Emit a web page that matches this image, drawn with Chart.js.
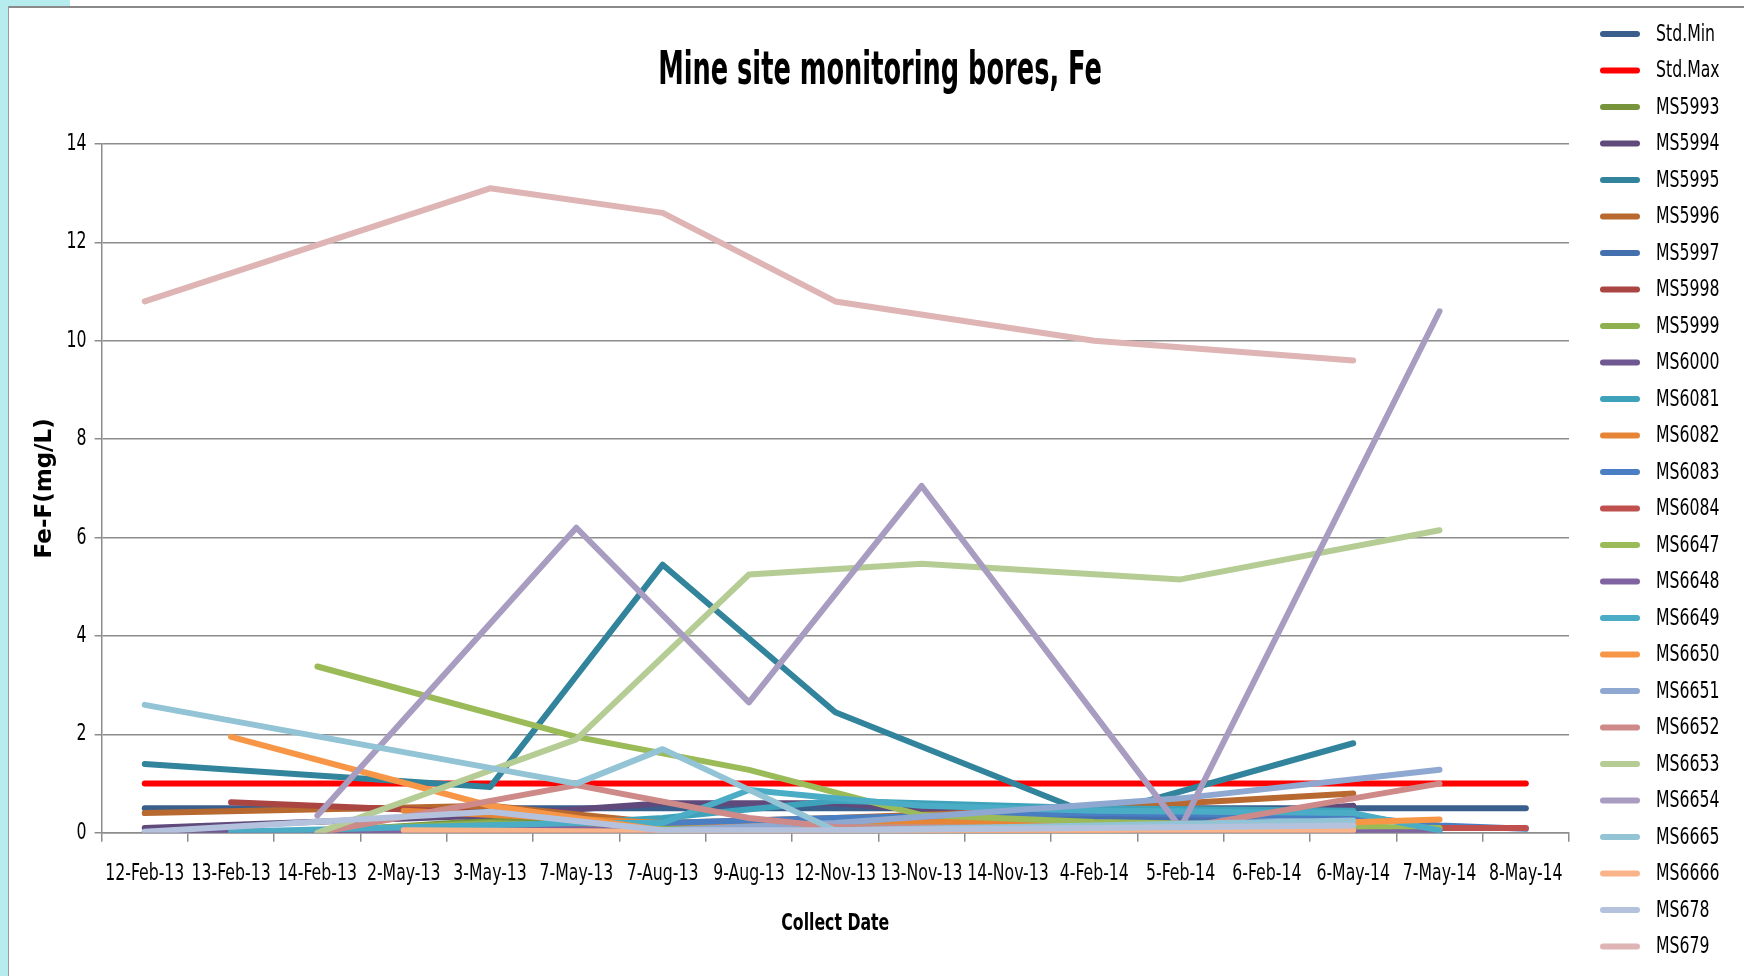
<!DOCTYPE html>
<html>
<head>
<meta charset="utf-8">
<script src="https://cdn.jsdelivr.net/npm/chart.js@4.4.1/dist/chart.umd.min.js"></script>
<style>
  html, body { margin:0; padding:0; background:#ffffff; overflow:hidden; }
  #wrap { position:relative; width:1744px; height:976px; }
  .deco { position:absolute; }
  #strip { left:0; top:0; width:8px; height:976px; background:#b6ecee; }
  #corner { left:0; top:0; width:70px; height:6px; background:#b6ecee; }
  #topline { left:8px; top:6px; width:1736px; height:2px; background:#8a8a8a; }
  #leftline { left:8px; top:6px; width:1px; height:970px; background:#9a9a9a; }
  canvas { position:absolute; left:0; top:0; }
</style>
</head>
<body>
<div id="wrap">
  <div class="deco" id="strip"></div>
  <div class="deco" id="corner"></div>
  <div class="deco" id="topline"></div>
  <div class="deco" id="leftline"></div>
  <canvas id="c" width="1744" height="976"></canvas>
</div>
<script>
const N = null;
const categories = ['12-Feb-13','13-Feb-13','14-Feb-13','2-May-13','3-May-13','7-May-13','7-Aug-13','9-Aug-13','12-Nov-13','13-Nov-13','14-Nov-13','4-Feb-14','5-Feb-14','6-Feb-14','6-May-14','7-May-14','8-May-14'];
const yTicks = [0, 2, 4, 6, 8, 10, 12, 14];

const seriesNames = ['Std.Min','Std.Max','MS5993','MS5994','MS5995','MS5996','MS5997','MS5998','MS5999','MS6000','MS6081','MS6082','MS6083','MS6084','MS6647','MS6648','MS6649','MS6650','MS6651','MS6652','MS6653','MS6654','MS6665','MS6666','MS678','MS679'];
const seriesColors = ['#3A5F8D','#FF0000','#77933C','#5F4A7B','#31849B','#B8692F','#4471AE','#AA4542','#8FB04E','#6F5791','#3FA2BB','#E68535','#4A7EC2','#C0504D','#9BBB59','#8064A2','#4BACC6','#F79646','#8FA8D1','#CE8A89','#B5CD95','#A89CC0','#92C4D6','#F9B48A','#B4C2DD','#DEB4B4'];

const stdMin = [0.5,0.5,0.5,0.5,0.5,0.5,0.5,0.5,0.5,0.5,0.5,0.5,0.5,0.5,0.5,0.5,0.5];
const stdMax = [1,1,1,1,1,1,1,1,1,1,1,1,1,1,1,1,1];
const ms5993 = [N,N,0.02,N,0.25,N,0.2,N,0.15,N,N,0.1,N,N,0.05,N,N];
const ms5994 = [0.1,N,N,N,0.35,N,0.6,N,0.6,N,N,0.2,N,N,0.55,N,N];
const ms5995 = [1.4,N,N,N,0.93,N,5.45,N,2.45,N,N,0.35,N,N,1.82,N,N];
const ms5996 = [0.4,N,N,N,0.55,N,0.2,N,0.3,N,N,0.5,N,N,0.8,N,N];
const ms5997 = [N,N,N,0.05,N,N,0.1,N,0.25,N,N,0.3,N,N,0.2,N,N];
const ms5998 = [N,0.62,N,N,0.4,N,0.15,N,0.1,N,N,0.1,N,N,0.1,N,N];
const ms5999 = [N,N,0.05,N,0.2,N,0.1,N,0.2,N,N,0.15,N,N,0.05,N,N];
const ms6000 = [0.02,N,N,N,0.05,N,0.05,N,0.05,N,N,0.05,N,N,0.02,N,N];
const ms6081 = [N,N,N,N,0.1,N,0.3,N,0.65,N,N,0.5,N,N,0.45,N,N];
const ms6082 = [N,N,N,0.45,N,N,0.2,N,0.25,N,N,0.2,N,N,0.15,N,N];
const ms6083 = [N,N,N,N,N,N,0.2,N,0.3,N,N,0.4,N,N,0.33,0.15,0.08];
const ms6084 = [N,N,N,N,N,N,N,N,N,N,N,N,N,N,N,0.1,0.1];
const ms6647 = [N,N,3.38,N,N,1.95,N,1.28,N,0.36,N,0.22,N,N,N,0.1,N];
const ms6648 = [N,N,0.02,N,0.1,N,0.05,N,0.05,N,N,0.05,N,N,0.01,0.01,N];
const ms6649 = [N,0.02,N,N,N,0.2,0.2,0.87,0.7,0.55,N,0.45,N,N,0.4,0.05,N];
const ms6650 = [N,1.95,N,N,0.55,N,0.05,N,0.05,N,N,0.05,N,N,N,0.27,N];
const ms6651 = [N,N,N,N,N,N,0.05,N,0.2,N,N,N,0.7,N,N,1.28,N];
const ms6652 = [N,N,0,N,N,0.97,N,0.3,0.12,N,N,N,0.1,N,N,1.0,N];
const ms6653 = [N,N,0,N,N,1.9,N,5.25,N,5.47,N,N,5.15,N,N,6.15,N];
const ms6654 = [N,N,0.35,N,N,6.2,N,2.65,N,7.05,N,N,0.1,N,N,10.6,N];
const ms6665 = [2.6,N,N,N,N,1.0,1.7,N,0.05,N,N,0.15,N,N,0.25,N,N];
const ms6666 = [N,N,N,0.05,N,N,0.02,N,0.02,N,N,0.05,N,N,0.05,N,N];
const ms678 = [0.02,N,N,N,0.43,N,0.05,N,0.05,N,N,0.1,N,N,0.15,N,N];
const ms679 = [10.8,N,N,N,13.1,N,12.6,N,10.8,N,N,10.0,N,N,9.6,N,N];

const seriesValues = [stdMin,stdMax,ms5993,ms5994,ms5995,ms5996,ms5997,ms5998,ms5999,ms6000,ms6081,ms6082,ms6083,ms6084,ms6647,ms6648,ms6649,ms6650,ms6651,ms6652,ms6653,ms6654,ms6665,ms6666,ms678,ms679];

const NARROW = '"DejaVu Sans Condensed"';
const total = seriesNames.length;

// Narrow-font emulation: horizontally compress the condensed face (text stays real canvas text).
const canvas = document.getElementById('c');
const ctx2d = canvas.getContext('2d');
const origFill = ctx2d.fillText.bind(ctx2d);
const origMeasure = ctx2d.measureText.bind(ctx2d);
let textScaleX = 0.76;
ctx2d.fillText = function (text, x, y, maxWidth) {
  if (this.font.indexOf('Condensed') >= 0) {
    this.save();
    this.translate(x, y);
    this.scale(textScaleX, 1);
    origFill(text, 0, 0);
    this.restore();
  } else {
    origFill(text, x, y, maxWidth);
  }
};
ctx2d.measureText = function (text) {
  const m = origMeasure(text);
  if (this.font.indexOf('Condensed') >= 0) {
    return {
      width: m.width * textScaleX,
      actualBoundingBoxAscent: m.actualBoundingBoxAscent,
      actualBoundingBoxDescent: m.actualBoundingBoxDescent,
      actualBoundingBoxLeft: m.actualBoundingBoxLeft * textScaleX,
      actualBoundingBoxRight: m.actualBoundingBoxRight * textScaleX
    };
  }
  return m;
};

const datasets = seriesNames.map((name, i) => ({
  label: name,
  data: seriesValues[i],
  borderColor: seriesColors[i],
  backgroundColor: seriesColors[i],
  borderWidth: 6,
  pointRadius: 0,
  pointHoverRadius: 0,
  tension: 0,
  spanGaps: true,
  fill: false,
  borderCapStyle: 'round',
  borderJoinStyle: 'round',
  order: total - i
}));

const decorPlugin = {
  id: 'decor',
  afterDraw(chart) {
    const ctx = chart.ctx;
    ctx.save();
    // title
    ctx.fillStyle = '#000';
    ctx.font = 'bold 46px ' + NARROW;
    ctx.textAlign = 'center';
    ctx.textBaseline = 'middle';
    const keep = textScaleX;
    textScaleX = 0.62;
    ctx.fillText('Mine site monitoring bores, Fe', 880, 72);
    textScaleX = keep;
    // legend
    ctx.font = '23px ' + NARROW;
    ctx.textAlign = 'left';
    chart.data.datasets.forEach((ds, i) => {
      const y = 34 + 36.5 * i;
      ctx.strokeStyle = ds.borderColor;
      ctx.lineWidth = 6;
      ctx.lineCap = 'round';
      ctx.beginPath();
      ctx.moveTo(1603, y);
      ctx.lineTo(1637, y);
      ctx.stroke();
      ctx.fillStyle = '#000';
      ctx.fillText(ds.label, 1656, y + 1);
    });
    ctx.restore();
  }
};

new Chart(canvas, {
  type: 'line',
  data: { labels: categories, datasets: datasets },
  plugins: [decorPlugin],
  options: {
    responsive: false,
    animation: false,
    devicePixelRatio: 1,
    layout: { padding: { top: 144, right: 175, bottom: 38, left: 15 } },
    plugins: { legend: { display: false }, title: { display: false }, tooltip: { enabled: false } },
    scales: {
      x: {
        type: 'category',
        offset: true,
        grid: { display: true, drawOnChartArea: false, drawTicks: true, tickLength: 9, color: '#8c8c8c', lineWidth: 1.5, offset: true },
        border: { display: true, color: '#8c8c8c', width: 1.5 },
        ticks: { autoSkip: false, maxRotation: 0, minRotation: 0, padding: 18, color: '#000', font: { family: NARROW, size: 23 } },
        title: { display: true, text: 'Collect Date', color: '#000', font: { family: NARROW, size: 23, weight: 'bold' }, padding: { top: 5, bottom: 0 } }
      },
      y: {
        min: 0, max: 14,
        afterBuildTicks(scale) { scale.ticks = yTicks.map(v => ({ value: v })); },
        ticks: { padding: 8, color: '#000', font: { family: NARROW, size: 23 } },
        grid: { color: '#8c8c8c', lineWidth: 1.5, tickLength: 7 },
        border: { display: true, color: '#8c8c8c', width: 1.5 },
        title: { display: true, text: 'Fe-F(mg/L)', color: '#000', font: { family: 'DejaVu Sans', size: 23, weight: 'bold' }, padding: { top: 16, bottom: 0 } }
      }
    }
  }
});
</script>
</body>
</html>
